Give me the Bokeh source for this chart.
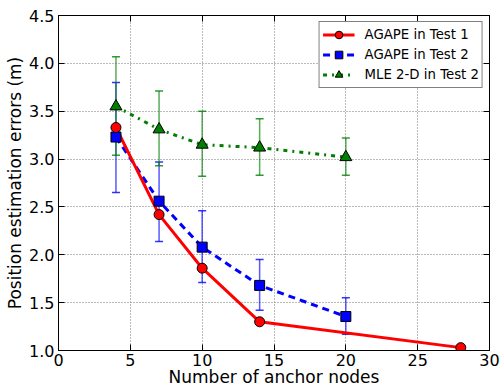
from bokeh.plotting import figure
from bokeh.models import (ColumnDataSource, Whisker, TeeHead, Legend, LegendItem,
                          LinearAxis, FixedTicker, Range1d, PrintfTickFormatter)
from bokeh.embed import file_html
from bokeh.resources import INLINE

# Mean localisation error vs. number of anchor nodes
anchors_t1 = [4, 7, 10, 14, 28]
agape_t1 = [3.33, 2.42, 1.86, 1.30, 1.03]

anchors_t2 = [4, 7, 10, 14, 20]
agape_t2 = [3.23, 2.56, 2.08, 1.68, 1.355]
agape_t2_low = [2.65, 2.14, 1.71, 1.42, 1.17]
agape_t2_high = [3.80, 2.97, 2.46, 1.95, 1.55]

mle_t2 = [3.55, 3.31, 3.15, 3.12, 3.02]
mle_t2_low = [3.04, 2.93, 2.82, 2.83, 2.83]
mle_t2_high = [4.07, 3.71, 3.50, 3.42, 3.22]

x_ticks = [0, 5, 10, 15, 20, 25, 30]
y_ticks = [1.0, 1.5, 2.0, 2.5, 3.0, 3.5, 4.0, 4.5]

FONT = "DejaVu Sans"
RED, BLUE, GREEN = "#ff0000", "#0000ff", "#007f00"

p = figure(width=500, height=389, output_backend="svg", toolbar_location=None,
           x_range=Range1d(0, 30), y_range=Range1d(1.0, 4.5),
           min_border_left=58, min_border_right=11, min_border_top=15,
           min_border_bottom=39)
p.background_fill_color = "white"
p.border_fill_color = "white"
p.outline_line_color = "black"
p.outline_line_width = 1

xa = p.xaxis[0]
ya = p.yaxis[0]
xa.ticker = FixedTicker(ticks=x_ticks)
ya.ticker = FixedTicker(ticks=y_ticks)
ya.formatter = PrintfTickFormatter(format="%.1f")
for ax in (xa, ya):
    ax.major_tick_in = 6
    ax.major_tick_out = 0
    ax.minor_tick_in = 0
    ax.minor_tick_out = 0
    ax.axis_line_color = "black"
    ax.major_tick_line_color = "black"
    ax.major_label_text_font = FONT
    ax.major_label_text_font_size = "16px"
    ax.major_label_text_color = "black"
    ax.axis_label_text_font = FONT
    ax.axis_label_text_font_size = "17px"
    ax.axis_label_text_font_style = "normal"
    ax.axis_label_text_color = "black"
xa.major_label_standoff = 3
xa.axis_label_standoff = -2
ya.major_label_standoff = 4
ya.axis_label_standoff = 1
xa.axis_label = "Number of anchor nodes"
ya.axis_label = "Position estimation errors (m)"

# tick marks on the top and right edges, without labels
for side, ticks in (("above", x_ticks), ("right", y_ticks)):
    ax = LinearAxis(ticker=FixedTicker(ticks=ticks),
                    major_label_overrides={t: "" for t in ticks})
    ax.major_tick_in = 6
    ax.major_tick_out = 0
    ax.minor_tick_in = 0
    ax.minor_tick_out = 0
    ax.axis_line_color = "black"
    ax.major_label_standoff = 0
    p.add_layout(ax, side)

for g in (p.xgrid[0], p.ygrid[0]):
    g.grid_line_color = "#777777"
    g.grid_line_dash = "1 2"
    g.grid_line_width = 1
p.xgrid[0].ticker = FixedTicker(ticks=x_ticks)
p.ygrid[0].ticker = FixedTicker(ticks=y_ticks)

src1 = ColumnDataSource(dict(x=anchors_t1, y=agape_t1))
src2 = ColumnDataSource(dict(x=anchors_t2, y=agape_t2, lo=agape_t2_low, hi=agape_t2_high))
src3 = ColumnDataSource(dict(x=anchors_t2, y=mle_t2, lo=mle_t2_low, hi=mle_t2_high))

# error bars
for src, col in ((src2, BLUE), (src3, GREEN)):
    w = Whisker(source=src, base="x", lower="lo", upper="hi", dimension="height",
                line_color=col, line_width=1.5, line_alpha=0.65,
                upper_head=TeeHead(size=8, line_color=col, line_width=1.5, line_alpha=0.8),
                lower_head=TeeHead(size=8, line_color=col, line_width=1.5, line_alpha=0.8))
    p.add_layout(w)

l2 = p.line("x", "y", source=src2, line_color=BLUE, line_width=3, line_dash="7 5")
l1 = p.line("x", "y", source=src1, line_color=RED, line_width=3)
l3 = p.line("x", "y", source=src3, line_color=GREEN, line_width=3, line_dash="4 5 2 5")

m2 = p.scatter("x", "y", source=src2, marker="square", size=10, fill_color=BLUE,
               line_color="black", line_width=1)
m1 = p.scatter("x", "y", source=src1, marker="circle", size=10, fill_color=RED,
               line_color="black", line_width=1)
m3 = p.scatter("x", "y", source=src3, marker="triangle", size=12, fill_color=GREEN,
               line_color="black", line_width=1)

legend = Legend(items=[
    LegendItem(label="AGAPE in Test 1", renderers=[l1, m1]),
    LegendItem(label="AGAPE in Test 2", renderers=[l2, m2]),
    LegendItem(label="MLE 2-D in Test 2", renderers=[l3, m3]),
], location="top_right")
legend.margin = 6
legend.padding = 3
legend.spacing = 1
legend.glyph_width = 32
legend.glyph_height = 19
legend.label_height = 19
legend.label_standoff = 10
legend.label_text_font = FONT
legend.label_text_font_size = "13.3px"
legend.label_text_color = "black"
legend.border_line_color = "black"
legend.border_line_width = 1
legend.background_fill_color = "white"
legend.background_fill_alpha = 1.0
p.add_layout(legend)

open("out.html", "w").write(file_html(p, INLINE))
